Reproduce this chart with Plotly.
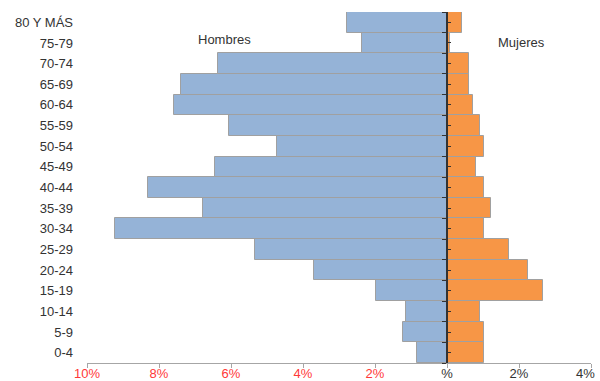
import plotly.graph_objects as go

# Age groups, bottom to top
age_groups = ["0-4", "5-9", "10-14", "15-19", "20-24", "25-29", "30-34", "35-39",
              "40-44", "45-49", "50-54", "55-59", "60-64", "65-69", "70-74",
              "75-79", "80 Y MÁS"]

# Share of population (%) by sex
hombres = [0.82, 1.21, 1.14, 1.96, 3.69, 5.32, 9.22, 6.77, 8.30, 6.44, 4.71,
           6.05, 7.59, 7.39, 6.35, 2.36, 2.78]
mujeres = [1.02, 1.02, 0.93, 2.66, 2.24, 1.73, 1.04, 1.22, 1.04, 0.81, 1.04,
           0.93, 0.71, 0.60, 0.60, 0.08, 0.42]

x_tick_vals = [-10, -8, -6, -4, -2, 0, 2, 4]
x_tick_text = ["10%", "8%", "6%", "4%", "2%", "%", "2%", "4%"]

FONT = "Liberation Sans, Arial, sans-serif"
NEG_COLOR = "#FF3838"
TEXT_COLOR = "#333333"
FS = 13

ML, MR, MT, MB = 87, 9, 12, 18
W, H = 600, 381
plot_w = W - ML - MR
plot_h = H - MT - MB

ticktext = [
    f'<span style="color:{NEG_COLOR}">{t}</span>' if v < 0 else t
    for v, t in zip(x_tick_vals, x_tick_text)
]

fig = go.Figure()
fig.add_trace(go.Bar(
    y=age_groups, x=[-v for v in hombres], orientation="h", name="Hombres",
    marker=dict(color="#95B3D7", line=dict(color="#A0A0A0", width=1)),
))
fig.add_trace(go.Bar(
    y=age_groups, x=mujeres, orientation="h", name="Mujeres",
    marker=dict(color="#F79646", line=dict(color="#A0A0A0", width=1)),
))

# Invisible helpers so the central axes are rendered
for ax in ("y2", "y3"):
    fig.add_trace(go.Scatter(x=[0], y=[0], yaxis=ax, mode="markers",
                             marker=dict(opacity=0), hoverinfo="skip",
                             showlegend=False))

n = len(age_groups)
center_pos = 10 / 14

fig.update_layout(
    width=W, height=H,
    margin=dict(l=ML, r=MR, t=MT, b=MB, autoexpand=False),
    paper_bgcolor="white", plot_bgcolor="white",
    barmode="relative", bargap=0,
    showlegend=False,
    font=dict(family=FONT, size=FS, color=TEXT_COLOR),
    xaxis=dict(
        range=[-10, 4], tickvals=x_tick_vals, ticktext=ticktext,
        showgrid=False, zeroline=False, automargin=False,
        showline=True, linecolor="#A6A6A6", linewidth=1,
        ticks="outside", ticklen=4, tickcolor="#A6A6A6",
        ticklabelstandoff=-6,
        tickfont=dict(size=FS, family=FONT, color=TEXT_COLOR),
        fixedrange=True,
    ),
    yaxis=dict(
        type="category", categoryorder="array", categoryarray=age_groups,
        range=[-0.5, n - 0.5], showgrid=False, zeroline=False,
        showline=False, ticks="", ticklabelstandoff=13, automargin=False,
        tickfont=dict(size=FS, family=FONT, color=TEXT_COLOR),
    ),
    yaxis2=dict(
        overlaying="y", anchor="free", position=center_pos, side="left",
        range=[-0.5, n - 0.5], tickvals=[i - 0.5 for i in range(n + 1)],
        showticklabels=False, showgrid=False, zeroline=False, automargin=False,
        showline=True, linecolor="#333333", linewidth=1.5,
        ticks="outside", ticklen=4, tickcolor="#333333",
    ),
    yaxis3=dict(
        overlaying="y", anchor="free", position=center_pos, side="right",
        range=[-0.5, n - 0.5], tickvals=list(range(n)),
        showticklabels=False, showgrid=False, zeroline=False, automargin=False,
        showline=False, ticks="outside", ticklen=3, tickcolor="#333333",
    ),
)

# Panel titles, positioned in pixels
for text, px, py in [("Hombres", 224, 39.5), ("Mujeres", 521.5, 42)]:
    fig.add_annotation(
        text=text, x=(px - ML) / plot_w, y=1 - (py - MT) / plot_h,
        xref="paper", yref="paper", xanchor="center", yanchor="middle",
        showarrow=False, font=dict(size=FS, family=FONT, color=TEXT_COLOR),
    )

# The last tick label sits against the right edge of the page
fig.add_annotation(
    text=x_tick_text[-1], x=(597 - ML) / plot_w, y=1 - (373.5 - MT) / plot_h,
    xref="paper", yref="paper", xanchor="right", yanchor="middle",
    showarrow=False, font=dict(size=FS, family=FONT, color=TEXT_COLOR),
)

fig.write_html("out.html")
